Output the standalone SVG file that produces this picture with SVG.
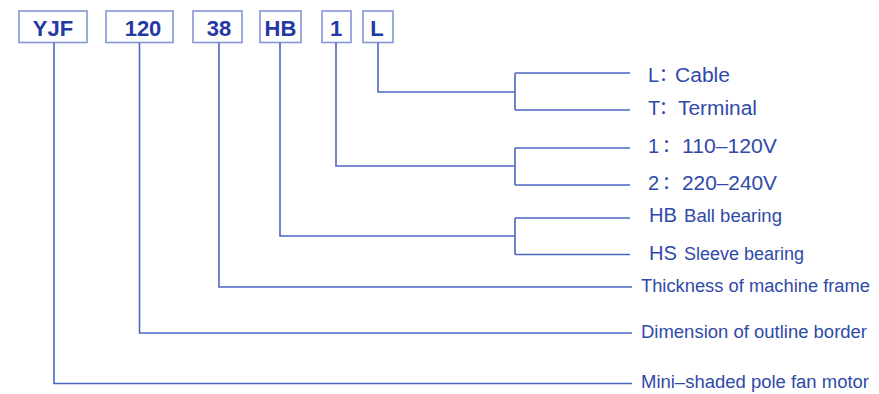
<svg xmlns="http://www.w3.org/2000/svg" width="879" height="394" viewBox="0 0 879 394">
<style>
.box{fill:#ffffff;stroke:#8596d8;stroke-width:1.6}
.code{font-family:"Liberation Sans",Arial,sans-serif;font-weight:bold;font-size:22px;fill:#2438a2;text-anchor:middle}
.ln{fill:none;stroke:#4d66c2;stroke-width:1.6}
.k{font-family:"Liberation Sans",Arial,sans-serif;font-size:20px;fill:#2f4aa8}
.d{font-family:"Liberation Sans",Arial,sans-serif;font-size:18px;fill:#2f4aa8}
.c{font-family:"Noto Sans CJK SC","Liberation Sans",sans-serif;font-size:18px;fill:#2f4aa8}
</style>
<rect width="879" height="394" fill="#ffffff"/>
<g id="node-yjf"><rect class="box" x="19" y="11" width="68" height="31.5"/><text class="code" x="53" y="36">YJF</text></g>
<g id="node-120"><rect class="box" x="106" y="11" width="67" height="31.5"/><text class="code" x="143" y="36">120</text></g>
<g id="node-38"><rect class="box" x="193" y="11" width="49" height="31.5"/><text class="code" x="219" y="36">38</text></g>
<g id="node-hb"><rect class="box" x="260" y="11" width="41" height="31.5"/><text class="code" x="280.5" y="36">HB</text></g>
<g id="node-1"><rect class="box" x="322" y="11" width="29" height="31.5"/><text class="code" x="336" y="36">1</text></g>
<g id="node-l"><rect class="box" x="363" y="11" width="30" height="31.5"/><text class="code" x="377" y="36">L</text></g>
<g id="connectors">
<path class="ln" d="M378 42.8V92H515M515 73V110M515 73H630M515 110H630"/>
<path class="ln" d="M336 42.8V166H515M515 148V185M515 148H630M515 185H630"/>
<path class="ln" d="M280 42.8V236H515M515 218V254.5M515 218H630M515 254.5H630"/>
<path class="ln" d="M219 42.8V287H632"/>
<path class="ln" d="M139.5 42.8V333H632"/>
<path class="ln" d="M54 42.8V383.5H632"/>
</g>
<g id="label-l"><text class="k" x="648" y="82">L</text><text class="c" x="659" y="81">：</text><text class="k" x="675" y="82" textLength="55" lengthAdjust="spacingAndGlyphs">Cable</text></g>
<g id="label-t"><text class="k" x="648" y="115">T</text><text class="c" x="659" y="114">：</text><text class="k" x="678" y="115" textLength="79" lengthAdjust="spacingAndGlyphs">Terminal</text></g>
<g id="label-1"><text class="k" x="648" y="153">1</text><text class="c" x="662" y="152">：</text><text class="k" x="682" y="153" textLength="95" lengthAdjust="spacingAndGlyphs">110–120V</text></g>
<g id="label-2"><text class="k" x="648" y="190">2</text><text class="c" x="662" y="189">：</text><text class="k" x="682" y="190" textLength="95" lengthAdjust="spacingAndGlyphs">220–240V</text></g>
<g id="label-hb"><text class="k" x="649" y="222" textLength="28" lengthAdjust="spacingAndGlyphs">HB</text><text class="d" x="684" y="222" textLength="98" lengthAdjust="spacingAndGlyphs">Ball bearing</text></g>
<g id="label-hs"><text class="k" x="649" y="260" textLength="28" lengthAdjust="spacingAndGlyphs">HS</text><text class="d" x="684" y="260" textLength="120" lengthAdjust="spacingAndGlyphs">Sleeve bearing</text></g>
<g id="label-thickness"><text class="d" x="641" y="292" textLength="229" lengthAdjust="spacingAndGlyphs">Thickness of machine frame</text></g>
<g id="label-dimension"><text class="d" x="641" y="338" textLength="226" lengthAdjust="spacingAndGlyphs">Dimension of outline border</text></g>
<g id="label-mini"><text class="d" x="641" y="388" textLength="228" lengthAdjust="spacingAndGlyphs">Mini–shaded pole fan motor</text></g>
</svg>
